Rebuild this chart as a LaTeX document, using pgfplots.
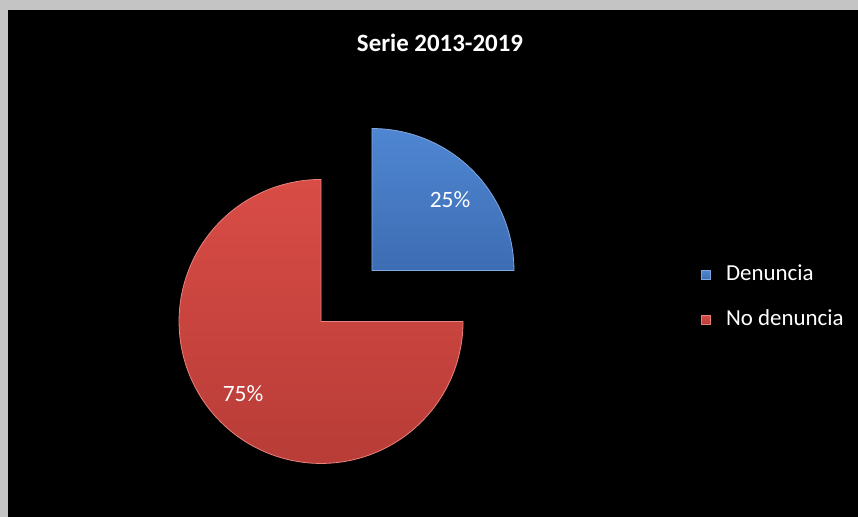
\documentclass[border=0pt]{standalone}
\usepackage{pgfplots}
\pgfplotsset{compat=1.18}
\usepackage{pgfplotstable}
\usepackage{fontspec}
\setmainfont{Carlito}
\definecolor{framegray}{HTML}{C4C4C4}
\definecolor{blueTop}{HTML}{4F86D2}
\definecolor{blueBot}{HTML}{3D6DB3}
\definecolor{blueRim}{HTML}{7FA8E0}
\definecolor{redTop}{HTML}{D94C46}
\definecolor{redBot}{HTML}{B83C37}
\definecolor{redRim}{HTML}{E8827D}
\pgfplotstableread{
label value
Denuncia 25
NoDenuncia 75
}\piedata
\begin{document}%
\begin{tikzpicture}
\pgfplotstablegetelem{0}{value}\of\piedata \let\vA\pgfplotsretval
\pgfplotstablegetelem{1}{value}\of\piedata \let\vB\pgfplotsretval
\pgfmathsetmacro\aS{90}
\pgfmathsetmacro\aM{90-3.6*\vA}
\pgfmathsetmacro\aE{\aM-3.6*\vB}
\pgfmathsetmacro\R{142}
\pgfmathsetmacro\ex{36}
\pgfmathsetmacro\pcx{346.5}
\pgfmathsetmacro\pcy{221}
\pgfmathsetmacro\cxA{\pcx+\ex*cos((\aS+\aM)/2)}
\pgfmathsetmacro\cyA{\pcy+\ex*sin((\aS+\aM)/2)}
\pgfmathsetmacro\cxB{\pcx+\ex*cos((\aM+\aE)/2)}
\pgfmathsetmacro\cyB{\pcy+\ex*sin((\aM+\aE)/2)}
\useasboundingbox (0,0) rectangle (858bp,517bp);
\clip (0,0) rectangle (858bp,517bp);
\fill[framegray] (0,0) rectangle (858bp,517bp);
\fill[black] (8bp,0) rectangle (858bp,507bp);
\begin{axis}[
  at={(0,0)}, anchor=south west,
  scale only axis, width=858bp, height=517bp,
  xmin=0, xmax=858, ymin=0, ymax=517,
  hide axis, clip=false,
  legend style={at={(axis cs:701,253)}, anchor=north west, draw=none, fill=none,
    text=white, font=\fontsize{23}{27}\selectfont,
    row sep=24bp, inner sep=0pt,
    nodes={inner sep=0pt, text height=16bp, text depth=5bp},
    /tikz/every odd column/.append style={column sep=15bp}},
  legend cell align=left,
  legend image code/.code={\fill[#1] (0bp,-4.5bp) rectangle (9bp,4.5bp);},
]
\addplot[draw=blueRim, line width=0.8bp, top color=blueTop, bottom color=blueBot,
  domain=\aS:\aM, samples=91]
  ({\cxA+\R*cos(x)},{\cyA+\R*sin(x)}) -- (axis cs:\cxA,\cyA) -- cycle;
\addlegendentry{Denuncia}
\addplot[draw=redRim, line width=0.8bp, top color=redTop, bottom color=redBot,
  domain=\aM:\aE, samples=181]
  ({\cxB+\R*cos(x)},{\cyB+\R*sin(x)}) -- (axis cs:\cxB,\cyB) -- cycle;
\addlegendentry{No denuncia}
\node[text=white, anchor=base, font=\fontsize{23.5}{27}\selectfont] at (axis cs:450,309) {25\%};
\node[text=white, anchor=base, font=\fontsize{23.5}{27}\selectfont] at (axis cs:243,115) {75\%};
\node[text=white, anchor=base, font=\bfseries\fontsize{25}{30}\selectfont] at (axis cs:440,465) {Serie 2013-2019};
\end{axis}
\end{tikzpicture}%
\end{document}
